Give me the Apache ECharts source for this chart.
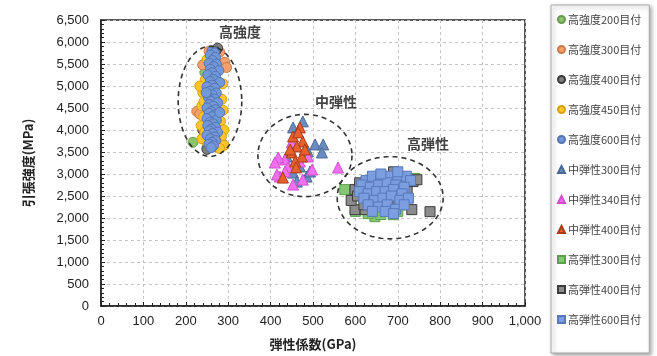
<!DOCTYPE html>
<html>
<head>
<meta charset="utf-8">
<script src="https://cdn.jsdelivr.net/npm/echarts@6/dist/echarts.min.js"></script>
<style>
  html, body { margin: 0; padding: 0; background: #fff; }
  #chart { width: 657px; height: 356px; }
</style>
</head>
<body>
<div id="chart"></div>
<script>
// [GPa, MPa]
const hs200 = [[217, 3720], [245, 5310], [250, 3600]];
const hs300 = [[255, 5790], [280, 5770], [292, 5540], [252, 5610], [226, 4420], [233, 4360], [240, 5480], [296, 5420]];
const hs400 = [[275, 5860], [270, 5780], [268, 3620], [285, 3700], [250, 3560], [282, 3900], [240, 4000], [262, 5680]];
const hs450 = [[240, 4850], [285, 4700], [238, 4550], [288, 4450], [242, 4300], [282, 4200], [236, 4100],
  [290, 4000], [245, 3950], [284, 3850], [248, 3750], [275, 3700], [290, 3650], [262, 3620], [238, 3800],
  [280, 3580], [255, 3700], [243, 4650], [287, 5050], [246, 5150], [250, 5600], [233, 5000]];
const hs600 = [[262, 5800], [268, 5750], [258, 5700], [270, 5650], [263, 5580], [255, 5520], [272, 5500],
  [266, 5440], [258, 5380], [278, 5350], [262, 5300], [252, 5250], [270, 5220], [265, 5150], [258, 5100],
  [280, 5080], [262, 5020], [250, 4980], [268, 4950], [257, 4880], [272, 4840], [262, 4800], [253, 4750],
  [268, 4700], [260, 4650], [275, 4620], [255, 4580], [265, 4540], [250, 4500], [270, 4460], [260, 4420],
  [255, 4380], [268, 4340], [262, 4300], [250, 4260], [272, 4220], [258, 4180], [265, 4140], [252, 4100],
  [270, 4060], [260, 4020], [255, 3980], [275, 3950], [263, 3920], [250, 3880], [268, 3840], [258, 3800],
  [270, 3760], [262, 3720], [255, 3680], [265, 3640], [260, 3600], [280, 4400], [248, 4850]];
const me300 = [[476, 4196], [453, 4059], [505, 3672], [524, 3672], [521, 3490], [488, 3512], [438, 3398],
  [453, 3033], [485, 2942], [462, 2828], [493, 3056], [469, 3170]];
const me340 = [[434, 3330], [418, 3375], [441, 3147], [422, 2942], [415, 2988], [453, 2760], [476, 2873],
  [498, 3101], [559, 3147], [434, 3056], [469, 3284], [450, 3718], [488, 3398], [410, 3261]];
const me400 = [[469, 4059], [453, 3854], [476, 3740], [462, 3626], [450, 3490], [474, 3398], [458, 3284],
  [481, 3558], [429, 2919], [465, 3945], [446, 3558], [460, 3150]];
const he300 = [[575, 2645], [646, 2030], [689, 2075], [710, 2300], [630, 2100], [660, 2080], [740, 2900],
  [600, 2150], [700, 2150], [720, 2800]];
const he400 = [[677, 2919], [736, 2828], [745, 2870], [776, 2144], [733, 2190], [599, 2645], [599, 2190],
  [623, 2190], [722, 2600], [590, 2400], [640, 2450], [620, 2300], [680, 2350], [700, 2400], [660, 2550],
  [605, 2500], [610, 2800], [690, 3050]];
const he600 = [[625, 2850], [640, 2950], [660, 2900], [680, 2950], [700, 2900], [720, 2950], [730, 2850],
  [615, 2750], [635, 2700], [655, 2750], [675, 2800], [695, 2750], [715, 2700], [610, 2600], [630, 2550],
  [650, 2600], [670, 2600], [690, 2650], [710, 2550], [620, 2450], [645, 2400], [665, 2450], [685, 2500],
  [705, 2400], [725, 2450], [630, 2300], [655, 2250], [675, 2300], [695, 2200], [715, 2300], [640, 2150],
  [670, 2150], [690, 2100], [660, 3000], [700, 3050]];

// dashed group outlines: [centre GPa, centre MPa, radius GPa, radius MPa]
const groupEllipses = [[257, 4650, 75, 1250], [481, 3420, 111, 935], [682, 2460, 125, 935]];
// group captions: [GPa, MPa, text]
const groupLabels = [[328, 6226, '高強度'], [554, 4652, '中弾性'], [771, 3694, '高弾性']];

const xTicks = { min: 0, max: 1000, step: 100 };
const yTicks = { min: 0, max: 6500, step: 500 };

const chart = echarts.init(document.getElementById('chart'));

const seriesDefs = [
  { name: '高強度200目付', data: hs200, symbol: 'circle', color: '#8cc46a', border: '#6a9a50' },
  { name: '高強度300目付', data: hs300, symbol: 'circle', color: '#f5a06a', border: '#c87a48' },
  { name: '高強度400目付', data: hs400, symbol: 'circle', color: '#7f7f7f', border: '#3a3a3a' },
  { name: '高強度450目付', data: hs450, symbol: 'circle', color: '#ffc52a', border: '#d8a010' },
  { name: '高強度600目付', data: hs600, symbol: 'circle', color: '#7198da', border: '#5574b0' },
  { name: '中弾性300目付', data: me300, symbol: 'triangle', color: '#6a8cc0', border: '#4a6a98' },
  { name: '中弾性340目付', data: me340, symbol: 'triangle', color: '#f070f0', border: '#d050d0' },
  { name: '中弾性400目付', data: me400, symbol: 'triangle', color: '#e8602e', border: '#a83c18' },
  { name: '高弾性300目付', data: he300, symbol: 'rect', color: '#84c874', border: '#5ca04c' },
  { name: '高弾性400目付', data: he400, symbol: 'rect', color: '#8c8c8c', border: '#3c3c3c' },
  { name: '高弾性600目付', data: he600, symbol: 'rect', color: '#7b9ee0', border: '#5878b8' },
];

const scatterSeries = seriesDefs.map(d => ({
  name: d.name,
  type: 'scatter',
  data: d.data,
  symbol: d.symbol,
  symbolSize: d.symbol === 'triangle' ? 11 : 10,
  itemStyle: { color: d.color, borderColor: d.border, borderWidth: 1, opacity: 1 },
  z: 3,
}));

const axisFont = { fontFamily: 'Liberation Sans, Arial, sans-serif', fontSize: 13, color: '#222' };
const nameFont = { fontFamily: 'Noto Sans CJK JP', fontSize: 13, fontWeight: 'bold', color: '#222' };

const option = {
  animation: false,
  backgroundColor: '#fff',
  grid: { left: 101, right: 132, top: 20, bottom: 50, show: true, borderColor: '#222', borderWidth: 1.5 },
  legend: {
    orient: 'vertical',
    left: 551,
    top: 5,
    data: seriesDefs.map(d => d.name),
    itemWidth: 7,
    itemHeight: 7,
    itemGap: 19,
    padding: [9, 8, 28, 6],
    textStyle: { fontFamily: 'Noto Sans CJK JP', fontSize: 11, color: '#444', padding: [0, 0, 0, -2] },
    borderColor: '#a8a8a8',
    borderWidth: 1,
    backgroundColor: '#fff',
    shadowBlur: 4,
    shadowOffsetX: 2,
    shadowOffsetY: 2,
    shadowColor: 'rgba(0,0,0,0.35)',
  },
  xAxis: {
    type: 'value',
    min: xTicks.min,
    max: xTicks.max,
    interval: xTicks.step,
    name: '弾性係数(GPa)',
    nameLocation: 'middle',
    nameGap: 32,
    nameTextStyle: nameFont,
    axisLine: { show: true, lineStyle: { color: '#222', width: 1.5 } },
    axisTick: { show: true, inside: true, length: 4, lineStyle: { color: '#222' } },
    minorTick: { show: true, splitNumber: 5, length: 3, lineStyle: { color: '#222' } },
    axisLabel: Object.assign({ margin: 9, formatter: v => v.toLocaleString('en-US') }, axisFont),
    splitLine: { show: true, lineStyle: { type: [3, 3], color: '#c4c4c4' } },
  },
  yAxis: {
    type: 'value',
    min: yTicks.min,
    max: yTicks.max,
    interval: yTicks.step,
    name: '引張強度(MPa)',
    nameLocation: 'middle',
    nameGap: 66,
    nameTextStyle: nameFont,
    axisLine: { show: true, lineStyle: { color: '#222', width: 1.5 } },
    axisTick: { show: true, inside: true, length: 4, lineStyle: { color: '#222' } },
    minorTick: { show: true, splitNumber: 5, length: 3, lineStyle: { color: '#222' } },
    axisLabel: Object.assign({ margin: 12, formatter: v => v.toLocaleString('en-US') }, axisFont),
    splitLine: { show: true, lineStyle: { type: [3, 3], color: '#c4c4c4' } },
  },
  series: [
    {
      name: 'outlines',
      type: 'custom',
      data: groupEllipses,
      silent: true,
      z: 4,
      renderItem: (params, api) => {
        const c = api.coord([api.value(0), api.value(1)]);
        const s = api.size([api.value(2), api.value(3)]);
        const pts = [];
        for (let i = 0; i <= 72; i++) {
          const a = (i / 72) * Math.PI * 2;
          pts.push([c[0] + s[0] * Math.cos(a), c[1] + s[1] * Math.sin(a)]);
        }
        return {
          type: 'polyline',
          shape: { points: pts },
          style: { fill: null, stroke: '#333', lineWidth: 1.6, lineDash: [5, 4] },
        };
      },
    },
    ...scatterSeries,
    {
      name: 'captions',
      type: 'scatter',
      data: groupLabels,
      symbolSize: 0,
      silent: true,
      z: 5,
      label: {
        show: true,
        position: 'inside',
        formatter: p => p.value[2],
        fontFamily: 'Noto Sans CJK JP',
        fontSize: 14,
        fontWeight: 'bold',
        color: '#111',
      },
    },
  ],
};

chart.setOption(option);
</script>
</body>
</html>
